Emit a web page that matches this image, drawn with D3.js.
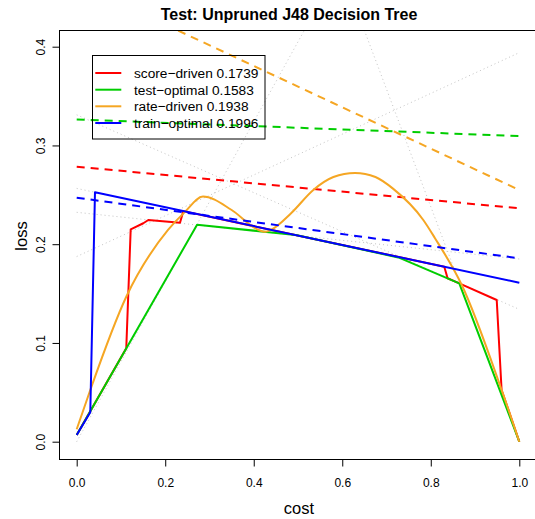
<!DOCTYPE html>
<html>
<head>
<meta charset="utf-8">
<script src="https://cdn.jsdelivr.net/npm/d3@7"></script>
<style>
  html, body { margin: 0; padding: 0; background: #fff; }
  svg { display: block; font-family: "Liberation Sans", Arial, sans-serif; }
</style>
</head>
<body>
<svg id="chart" width="535" height="519"></svg>
<script>
// ---- data -------------------------------------------------------------
const xTicks = [0, 0.2, 0.4, 0.6, 0.8, 1.0];
const yTicks = [0, 0.1, 0.2, 0.3, 0.4];

const seriesNames = ["score\u2212driven", "test\u2212optimal", "rate\u2212driven", "train\u2212optimal"];
const seriesScores = [0.1739, 0.1583, 0.1938, 0.1996];
const seriesColors = ["#FF0000", "#00CD00", "#F5A623", "#0000FF"];

// loss curves: [cost, loss]
const scoreDriven = [[0, 0.0068], [0.112, 0.0946], [0.122, 0.2151], [0.1505, 0.2212], [0.1618, 0.2245],
  [0.2334, 0.2218], [0.2409, 0.2335], [0.8305, 0.1772], [0.838, 0.1655], [0.8644, 0.1604],
  [0.949, 0.1435], [0.960, 0.0524], [1, 0]];
const testOptimal = [[0, 0.0068], [0.272, 0.2197], [0.495, 0.2093], [0.7267, 0.1866], [0.8644, 0.1604], [1, 0]];
const rateDriven = [[0, 0.0126], [0.0307, 0.0524], [0.112, 0.1468], [0.2063, 0.2144], [0.244, 0.2325],
  [0.2854, 0.2482], [0.3493, 0.2349], [0.4096, 0.2147], [0.4257, 0.2125], [0.4397, 0.2147],
  [0.4849, 0.2316], [0.5346, 0.2549], [0.5800, 0.2680], [0.6288, 0.2722], [0.6750, 0.2680],
  [0.7153, 0.2560], [0.7831, 0.2245], [0.8095, 0.2061], [0.87, 0.1587], [0.96, 0.0524], [1, 0]];
const trainOptimal = [[0, 0.0068], [0.0307, 0.0298], [0.0413, 0.2526], [1, 0.161]];
const seriesCurves = [scoreDriven, testOptimal, rateDriven, trainOptimal];

// straight dashed reference lines: loss at cost 0 and at cost 1
const dashedStart = [0.2785, 0.3263, 0.4643, 0.2471];
const dashedEnd = [0.2363, 0.3095, 0.2549, 0.1857];

// grey cost lines: loss at cost 0 and at cost 1
const costLineStart = [0.0, 1.19, 0.1875, 0.2565, 0.331, 0.2323];
const costLineEnd = [0.81, 0.0, 0.394, 0.161, 0.134, 0.185];

// ---- layout -----------------------------------------------------------
const box = { left: 59, top: 30, right: 537, bottom: 459 };
const x = d3.scaleLinear().domain([0, 1]).range([76.7, 519.3]);
const y = d3.scaleLinear().domain([0, 0.4]).range([441.7, 46.7]);

const svg = d3.select("#chart");

svg.append("defs").append("clipPath").attr("id", "plotClip")
  .append("rect")
  .attr("x", box.left).attr("y", box.top)
  .attr("width", box.right - box.left).attr("height", box.bottom - box.top);

const plot = svg.append("g").attr("clip-path", "url(#plotClip)");

const straight = d3.line().x(d => x(d[0])).y(d => y(d[1]));
const smooth = d3.line().x(d => x(d[0])).y(d => y(d[1])).curve(d3.curveMonotoneX);

// grey dotted cost lines
costLineStart.forEach((a, i) => {
  plot.append("path")
    .attr("d", straight([[0, a], [1, costLineEnd[i]]]))
    .attr("fill", "none")
    .attr("stroke", "#C4C4C4")
    .attr("stroke-width", 1)
    .attr("stroke-dasharray", "1,3");
});

// solid curves with their dashed lines, one series at a time
seriesCurves.forEach((pts, i) => {
  plot.append("path")
    .attr("d", (i === 2 ? smooth : straight)(pts))
    .attr("fill", "none")
    .attr("stroke", seriesColors[i])
    .attr("stroke-width", 2)
    .attr("stroke-linejoin", "round");
  plot.append("path")
    .attr("d", straight([[0, dashedStart[i]], [1, dashedEnd[i]]]))
    .attr("fill", "none")
    .attr("stroke", seriesColors[i])
    .attr("stroke-width", 2)
    .attr("stroke-dasharray", "8,6");
});

// plot frame
svg.append("rect")
  .attr("x", box.left + 0.5).attr("y", box.top + 0.5)
  .attr("width", box.right - box.left).attr("height", box.bottom - box.top)
  .attr("fill", "none").attr("stroke", "#000").attr("stroke-width", 1);

// x axis
const xAxis = svg.append("g")
  .attr("transform", `translate(0,${box.bottom + 0.5})`)
  .call(d3.axisBottom(x).tickValues(xTicks).tickSize(7).tickPadding(12).tickFormat(d3.format(".1f")));
xAxis.select(".domain").attr("d", `M${x(0)},0H${x(1)}`);
xAxis.selectAll("text").attr("font-size", 12).attr("font-family", "Liberation Sans, Arial, sans-serif").attr("fill", "#000");

// y axis with rotated labels
const yAxis = svg.append("g")
  .attr("transform", `translate(${box.left + 0.5},0)`)
  .call(d3.axisLeft(y).tickValues(yTicks).tickSize(7).tickFormat(""));
yAxis.select(".domain").attr("d", `M0,${y(0)}V${y(0.4)}`);
yAxis.selectAll(".tick").append("text")
  .attr("transform", "translate(-14.5,0) rotate(-90)")
  .attr("text-anchor", "middle")
  .attr("font-size", 12)
  .attr("font-family", "Liberation Sans, Arial, sans-serif")
  .attr("fill", "#000")
  .text(d => d3.format(".1f")(d));

// titles
svg.append("text")
  .attr("x", 289).attr("y", 20)
  .attr("text-anchor", "middle")
  .attr("font-weight", "bold").attr("font-size", 16)
  .text("Test: Unpruned J48 Decision Tree");
svg.append("text")
  .attr("x", 299).attr("y", 514)
  .attr("text-anchor", "middle").attr("font-size", 16.5)
  .text("cost");
svg.append("text")
  .attr("transform", "translate(26.7,236) rotate(-90)")
  .attr("text-anchor", "middle").attr("font-size", 16.5)
  .text("loss");

// legend
const legend = svg.append("g");
legend.append("rect")
  .attr("x", 92.5).attr("y", 55.5).attr("width", 172.5).attr("height", 83.5)
  .attr("fill", "none").attr("stroke", "#000").attr("stroke-width", 1);
const rowY = [73, 89.7, 106.3, 123];
seriesNames.forEach((name, i) => {
  legend.append("line")
    .attr("x1", 95.3).attr("x2", 121.3).attr("y1", rowY[i]).attr("y2", rowY[i])
    .attr("stroke", seriesColors[i]).attr("stroke-width", 2);
  legend.append("text")
    .attr("x", 134).attr("y", rowY[i] + 5)
    .attr("font-size", 13.7)
    .text(`${name} ${seriesScores[i].toFixed(4)}`);
});
</script>
</body>
</html>
